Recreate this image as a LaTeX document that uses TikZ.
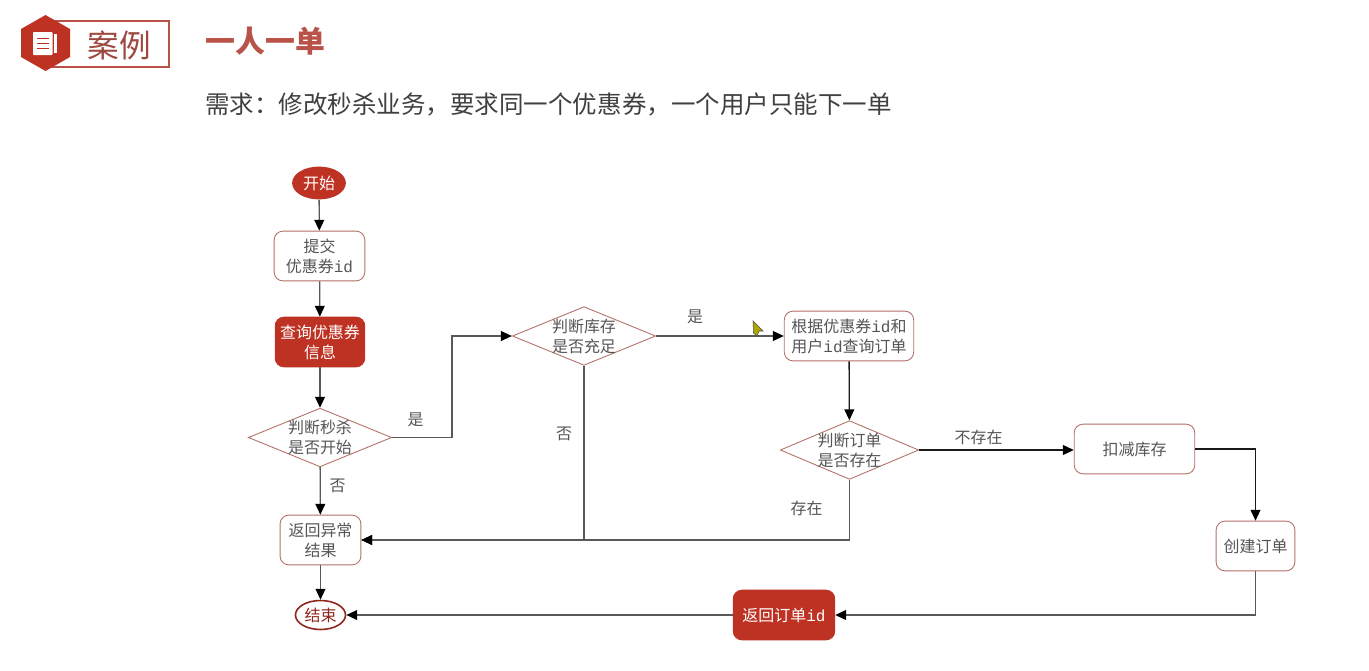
\documentclass[tikz,border=0pt]{standalone}
\usepackage{fontspec}
\setmainfont{Noto Sans CJK SC}
\setmonofont{Liberation Mono}
\usetikzlibrary{arrows.meta, shapes.geometric}
\definecolor{caseRed}{HTML}{BE3223}
\definecolor{caseLine}{HTML}{B5706A}
\definecolor{caseTitle}{HTML}{B9534A}
\definecolor{caseText}{HTML}{555555}
\newcommand{\boxfont}{\fontsize{9.1}{11.4}\selectfont}
\newcommand{\idtext}{\texttt{id}}
\newcommand{\widecolon}{\char"FF1A\relax}
\newcommand{\widecomma}{\char"FF0C\relax}
\tikzset{
  flowbox/.style={draw=caseLine, fill=white, rounded corners=5pt, line width=0.5pt, minimum height=28.3pt,
    inner sep=0pt, align=center, text=caseText, font=\boxfont},
  flowred/.style={flowbox, draw=caseRed, fill=caseRed, text=white},
  decision/.style={shape=diamond, draw=caseLine, line width=0.5pt, aspect=2.44, minimum width=81.6pt, minimum height=33.4pt,
    inner sep=-4pt, align=center, text=caseText, font=\boxfont},
  flow/.style={draw=black!65, line width=0.75pt, -{Triangle[length=6.2pt, width=5.6pt, color=black]}},
  flowdark/.style={flow, draw=black!90},
  flowlabel/.style={text=caseText, inner sep=0pt, font=\boxfont},
}
\begin{document}
\begin{tikzpicture}[x=0.02cm, y=-0.02cm]
  \fill[white] (0,0) rectangle (1369,670);
  \useasboundingbox (0,0) rectangle (1369,670);
  % Header badge
  \draw[caseTitle, line width=0.9pt] (45,21) rectangle (169,67);
  \fill[caseRed] (45.5,15) -- (70,29) -- (70,57) -- (45.5,71) -- (21,57) -- (21,29) -- cycle;
  \fill[white, rounded corners=0.5pt] (33,32) rectangle (52.5,55);
  \fill[white] (54,34) rectangle (57,53);
  \draw[caseRed, line width=0.6pt] (37,38.5) -- (48.5,38.5) (37,43.5) -- (48.5,43.5) (37,48.5) -- (48.5,48.5);
  \node[text=caseTitle!85!black, inner sep=0pt, font=\fontsize{18}{20}\selectfont] (caseTag) at (119,45) {案例};
  \node[text=caseTitle, inner sep=0pt, font=\fontsize{17}{20}\selectfont\bfseries] (caseName) at (265.5,41) {一人一单};
  \node[anchor=west, text=black!75, inner sep=0pt, font=\fontsize{13.95}{16}\selectfont] (caseNeed) at (205,104)
    {需求\widecolon 修改秒杀业务\widecomma 要求同一个优惠券\widecomma 一个用户只能下一单};
  % Left column
  \node[ellipse, fill=caseRed, text=white, inner sep=0pt, minimum width=30.6pt, minimum height=18.7pt, font=\boxfont] (start) at (319,183) {开始};
  \node[flowbox, minimum width=51.6pt] (submit) at (319.5,256) {提交\\优惠券\idtext};
  \node[flowred, minimum width=51pt] (queryCoupon) at (320,342) {查询优惠券\\信息};
  \node[decision] (judgeStart) at (320,437.5) {判断秒杀\\是否开始};
  \node[flowbox, minimum width=46pt] (returnErr) at (320.5,540) {返回异常\\结果};
  \node[ellipse, draw=caseRed!75!black, fill=white, line width=0.9pt, text=caseRed!75!black, inner sep=0pt,
    minimum width=28.5pt, minimum height=16.5pt, font=\boxfont] (finish) at (320.5,615) {结束};
  % Middle and right
  \node[decision] (judgeStock) at (584,336) {判断库存\\是否充足};
  \node[flowbox, minimum width=73.7pt] (queryOrder) at (849,336) {根据优惠券\idtext 和\\用户\idtext 查询订单};
  \node[decision, minimum width=78.8pt, aspect=2.36] (judgeOrder) at (849.5,450) {判断订单\\是否存在};
  \node[flowbox, minimum width=68.6pt] (deduct) at (1134.5,449) {扣减库存};
  \node[flowbox, minimum width=44.8pt] (createOrder) at (1255.5,546) {创建订单};
  \node[flowred, minimum width=57.8pt] (returnId) at (784,615) {返回订单\idtext};
  % Bend of the first yes branch
  \coordinate (bendStock) at (452,386);
  % Connectors
  \draw[flow] (start) -- (submit);
  \draw[flow] (submit) -- (queryCoupon);
  \draw[flow] (queryCoupon) -- (judgeStart);
  \draw[flow] (judgeStart) -- (returnErr);
  \draw[flow] (returnErr) -- (finish);
  \draw[flow] (judgeStart.east) -| (bendStock) |- (judgeStock.west);
  \draw[flow] (judgeStock.east) -- (queryOrder.west);
  \draw[flow] (judgeStock.south) |- (returnErr.east);
  \draw[flowdark] (queryOrder) -- (judgeOrder);
  \draw[flow] (judgeOrder.south) |- (returnErr.east);
  \draw[flowdark] (judgeOrder.east) -- (deduct.west |- judgeOrder.east);
  \draw[flowdark] (deduct.east) -| (createOrder.north);
  \draw[flow] (createOrder.south) |- (returnId.east);
  \draw[flow] (returnId.west) -- (finish.east);
  % Edge labels
  \node[flowlabel] (yesStart) at (415.5,420) {是};
  \node[flowlabel] (noStart) at (337.5,486) {否};
  \node[flowlabel] (noStock) at (564,434) {否};
  \node[flowlabel] (yesStock) at (695,317) {是};
  \node[flowlabel] (noOrder) at (978.5,437) {不存在};
  \node[flowlabel] (hasOrder) at (806.5,508) {存在};
  % Mouse pointer
  \draw[fill=olive!70!yellow, draw=black!70, line width=0.3pt] (753,321) -- (763,331) -- (759,331) -- (757,336) -- (753.5,333) -- cycle;
\end{tikzpicture}
\end{document}
